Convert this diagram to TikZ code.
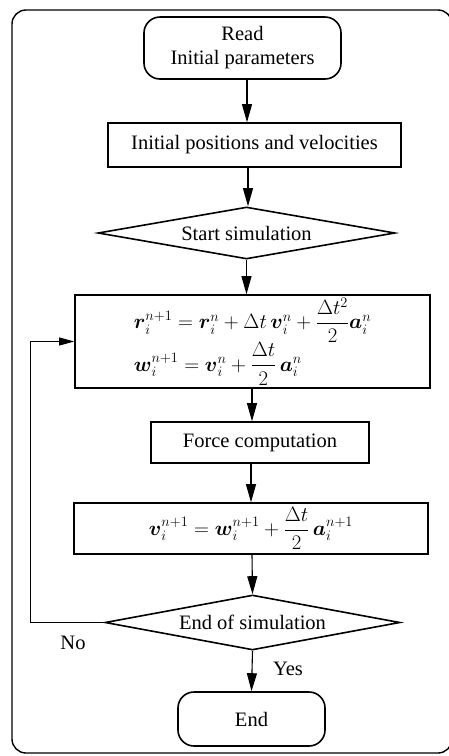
\documentclass[tikz,border=0pt]{standalone}
\usepackage{amsmath, amssymb}
\usepackage{fontspec}
\setmainfont{Liberation Serif}
\usetikzlibrary{positioning, arrows.meta, shapes.geometric}

\begin{document}
\begin{tikzpicture}[
    x=1pt, y=-1pt,
    every node/.style={font=\fontsize{20.5}{24}\selectfont, line width=1.6pt, inner sep=0pt},
    terminal/.style={draw, rectangle, rounded corners=16pt, align=center},
    process/.style={draw, rectangle},
    update/.style={draw, rectangle, font=\fontsize{22}{26}\selectfont},
    decision/.style={draw, diamond, aspect=5.7},
    flow/.style={draw, line width=1.1pt, -{Triangle[length=18pt, width=10pt]}},
    loopline/.style={draw, line width=0.9pt, -{Triangle[length=15pt, width=8pt]}}
]
\useasboundingbox (0,0) rectangle (449,756);
\draw[line width=1.4pt, rounded corners=14pt] (12,753) rectangle (452,10);

\node (read)  [terminal, minimum width=197pt, minimum height=62pt] at (242.5,48) {Read\\Initial parameters};
\node (init)  [process, minimum width=293pt, minimum height=44pt] at (254.5,145) {Initial positions and velocities};
\node (start) [decision, minimum width=297pt, minimum height=52pt] at (246.5,233) {Start simulation};
\node (step1) [update, minimum width=355pt, minimum height=93pt] at (252.5,341.5)
    {$\begin{array}{l}
      \boldsymbol{r}_i^{n+1} = \boldsymbol{r}_i^{n} + \Delta t\,\boldsymbol{v}_i^{n} + \dfrac{\Delta t^2}{2}\boldsymbol{a}_i^{n}\\[1pt]
      \boldsymbol{w}_i^{n+1} = \boldsymbol{v}_i^{n} + \dfrac{\Delta t}{2}\,\boldsymbol{a}_i^{n}
    \end{array}$};
\node (force) [process, minimum width=218pt, minimum height=41pt] at (260,442.5) {Force computation};
\node (step2) [update, minimum width=354pt, minimum height=51pt] at (251,528.5)
    {$\displaystyle\boldsymbol{v}_i^{n+1} = \boldsymbol{w}_i^{n+1} + \frac{\Delta t}{2}\,\boldsymbol{a}_i^{n+1}$};
\node (stop)  [decision, minimum width=295pt, minimum height=55pt] at (252.5,622.5) {End of simulation};
\node (end)   [terminal, minimum width=147pt, minimum height=54pt] at (251.5,719) {End};

\node (no)  at (73,643) {No};
\node (yes) at (288,669) {Yes};

\coordinate (back) at (30,0);
\draw[flow] (read.south -| 247,0) -- (init.north -| 247,0);
\draw[flow] (init.south -| 248,0) -- (start.north -| 248,0);
\draw[flow] (start.south) -- (start.south |- step1.north);
\draw[flow] (step1.south -| 252,0) -- (force.north -| 252,0);
\draw[flow] (force.south -| 251,0) -- (step2.north -| 251,0);
\draw[flow] (step2.south -| 252,0) -- (stop.north);
\draw[flow] (stop.south) -- (end.north);
\draw[loopline] (stop.west) -- (stop.west -| back) |- (step1.west);
\end{tikzpicture}
\end{document}
